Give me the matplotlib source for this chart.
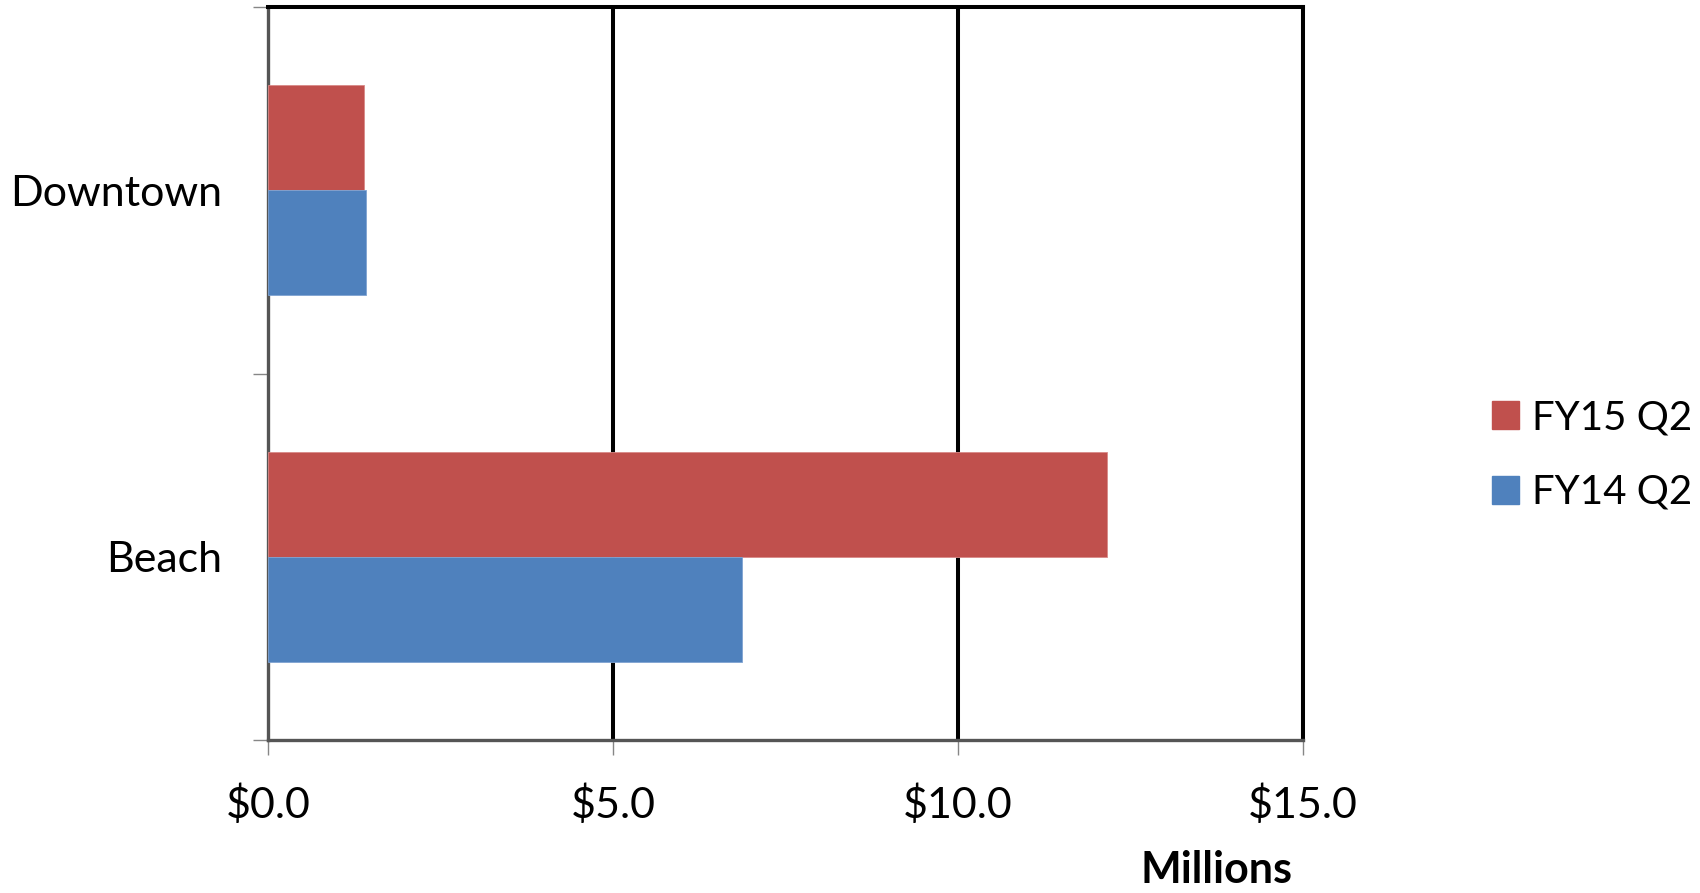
import matplotlib.pyplot as plt
import numpy as np
from matplotlib.patches import Patch

# data (millions of dollars)
categories = ['Beach', 'Downtown']
fy15_q2 = [12.16, 1.39]
fy14_q2 = [6.87, 1.42]
xticks = [0, 5, 10, 15]
xtick_labels = ['$0.0', '$5.0', '$10.0', '$15.0']

red = '#C0504D'
blue = '#4F81BD'
gray = '#868686'

plt.rcParams['font.family'] = ['Lato', 'DejaVu Sans']

fig = plt.figure(figsize=(17, 8.93), dpi=100)
ax = fig.add_axes([268 / 1700, (893 - 740) / 893, 1035 / 1700, 733 / 893])

y = np.arange(len(categories))
h = 0.2865
ax.barh(y + h / 2, fy15_q2, height=h, color=red, edgecolor='#D98A88', linewidth=0.6, zorder=3)
ax.barh(y - h / 2, fy14_q2, height=h, color=blue, edgecolor='#7FA3D2', linewidth=0.6, zorder=3)

ax.set_xlim(0, 15)
ax.set_ylim(-0.5, 1.5)

# vertical gridlines
for v in xticks[1:]:
    ax.axvline(v, color='black', linewidth=2.9, zorder=2)

ax.set_xticks(xticks)
ax.set_xticklabels(xtick_labels, fontsize=31)
ax.tick_params(axis='x', length=10.8, width=1, color=gray, pad=21)

ax.set_yticks([-0.5, 0.5, 1.5])
ax.set_yticklabels([])
ax.set_yticks(y, minor=True)
ax.set_yticklabels(categories, minor=True, fontsize=31)
ax.tick_params(axis='y', which='major', length=10.8, width=1, color=gray)
ax.tick_params(axis='y', which='minor', length=0, pad=33)

ax.spines['left'].set_color('#555555')
ax.spines['left'].set_linewidth(2.4)
ax.spines['bottom'].set_color('#555555')
ax.spines['bottom'].set_linewidth(2.4)
ax.spines['top'].set_color('black')
ax.spines['top'].set_linewidth(2.9)
ax.spines['right'].set_color('black')
ax.spines['right'].set_linewidth(2.9)

fig.text(1217 / 1700, 1 - 883 / 893, 'Millions', fontsize=31, fontweight='bold',
         ha='center', va='baseline')

handles = [Patch(color=red, label='FY15 Q2'), Patch(color=blue, label='FY14 Q2')]
fig.legend(handles=handles, loc='center left', bbox_to_anchor=(1492 / 1700, 1 - 455 / 893),
           frameon=False, fontsize=29, handlelength=0.67, handleheight=0.67,
           handletextpad=0.32, labelspacing=0.94, borderpad=0, borderaxespad=0)

fig.savefig('out.png', dpi=100)
